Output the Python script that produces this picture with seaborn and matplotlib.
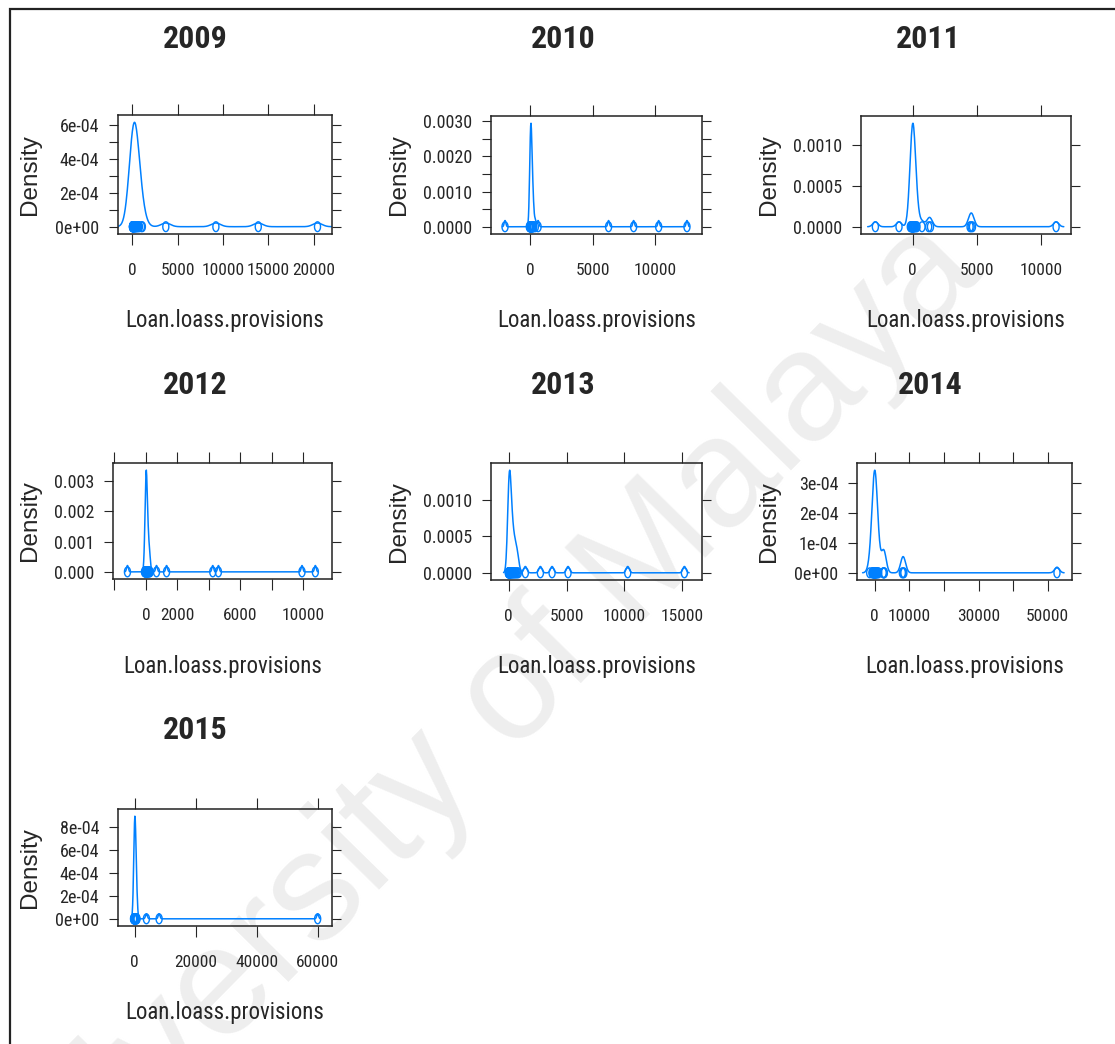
import numpy as np
import matplotlib
matplotlib.use("Agg")
import matplotlib.pyplot as plt
from matplotlib import font_manager
from matplotlib.path import Path
from matplotlib.patches import Rectangle
from matplotlib.ticker import FixedLocator, FixedFormatter
import seaborn as sns

years = [2009, 2010, 2011, 2012, 2013, 2014, 2015]

prov_2009 = [5, 12, 20, 28, 35, 44, 52, 60, 71, 85, 96, 110, 124, 140, 158, 175, 190, 212,
             236, 260, 288, 315, 350, 390, 430, 480, 540, 610, 690, 780,
             1000, 1100, 3690, 9220, 13900, 20440]
prov_2010 = [-60, -25, 0, 8, 15, 22, 30, 38, 45, 52, 60, 68, 75, 84, 92, 100, 110, 120,
             132, 145, 160, 178, 196, 220, 250, 290, 420, 640,
             -2000, 6270, 8270, 10270, 12530]
prov_2011 = [-180, -130, -95, -70, -52, -40, -28, -18, -10, -4, 0, 6, 14, 22, 31, 42, 55,
             70, 90, 115, 150, 200, 270, 340,
             -2900, -1060, 730, 1250, 1390, 4470, 4560, 4660, 11170]
prov_2012 = [-85, -50, -30, -18, -10, -5, 0, 4, 9, 15, 21, 28, 35, 42, 50, 58, 67, 78, 90,
             104, 120, 140, 165, 195, 230, 270,
             -1170, 680, 1320, 4260, 4620, 9940, 10790]
prov_2013 = [-40, -15, 0, 6, 14, 22, 30, 40, 52, 65, 80, 96, 115, 135, 158, 182, 210, 240,
             275, 315, 360, 410, 465, 525, 590, 660, 740, 830,
             1440, 2740, 3750, 5130, 10290, 15190]
prov_2014 = [-820, -610, -480, -390, -310, -250, -190, -140, -95, -50, -10, 30, 75, 125,
             180, 250, 330, 420, 540, 690, 880, 1150,
             2450, 2580, 2660, 2790, 7980, 8200, 8430, -1450, 52660]
prov_2015 = [-390, -300, -230, -170, -125, -90, -60, -35, -15, 0, 15, 32, 50, 70, 92, 115,
             140, 170, 205, 245, 290, 340, 400, 470, 550, 640, 740,
             3840, 8000, 60000]
provisions = [prov_2009, prov_2010, prov_2011, prov_2012, prov_2013, prov_2014, prov_2015]

# kernel bandwidth (same units as the data)
bandwidths = [510, 68, 200, 57, 135, 685, 300]

xticks = [[0, 5000, 10000, 15000, 20000],
          [0, 5000, 10000],
          [0, 5000, 10000],
          [-2000, 0, 2000, 4000, 6000, 8000, 10000],
          [0, 5000, 10000, 15000],
          [0, 10000, 20000, 30000, 40000, 50000],
          [0, 20000, 40000, 60000]]
xticklabels = [["0", "5000", "10000", "15000", "20000"],
               ["0", "5000", "10000"],
               ["0", "5000", "10000"],
               ["", "0", "2000", "", "6000", "", "10000"],
               ["0", "5000", "10000", "15000"],
               ["0", "10000", "", "30000", "", "50000"],
               ["0", "20000", "40000", "60000"]]
yticks = [[0, 1e-4, 2e-4, 3e-4, 4e-4, 5e-4, 6e-4],
          [0, 0.0005, 0.001, 0.0015, 0.002, 0.0025, 0.003],
          [0, 0.0005, 0.001],
          [0, 0.001, 0.002, 0.003],
          [0, 0.0005, 0.001],
          [0, 1e-4, 2e-4, 3e-4],
          [0, 2e-4, 4e-4, 6e-4, 8e-4]]
yticklabels = [["0e+00", "", "2e-04", "", "4e-04", "", "6e-04"],
               ["0.0000", "", "0.0010", "", "0.0020", "", "0.0030"],
               ["0.0000", "0.0005", "0.0010"],
               ["0.000", "0.001", "0.002", "0.003"],
               ["0.0000", "0.0005", "0.0010"],
               ["0e+00", "1e-04", "2e-04", "3e-04"],
               ["0e+00", "2e-04", "4e-04", "6e-04", "8e-04"]]
xlims = [(-1590, 22040), (-3120, 13730), (-4020, 12330), (-2090, 11850),
         (-1530, 16710), (-5120, 57000), (-5480, 64700)]

# layout in pixels (left, top, right, bottom) of each panel box
W, H = 1115, 1044
boxes = [(118, 115, 332, 234), (491, 116, 702, 234), (861, 116, 1071, 234),
         (113, 463, 332, 579), (491, 463, 702, 580), (857, 463, 1072, 580),
         (118, 809, 332, 926)]
title_pos = [(195, 39), (563, 39), (928, 39), (195, 385), (563, 385), (930, 385), (195, 730)]
xlab_y = [320, 320, 320, 667, 667, 667, 1013]
ylab_x = [30, 399, 769, 30, 399, 769, 30]

blue = "#0080FF"

installed = {f.name for f in font_manager.fontManager.ttflist}
narrow = [n for n in ["Roboto Condensed", "Liberation Sans Narrow", "Archivo Narrow"]
          if n in installed] + ["Liberation Sans", "DejaVu Sans"]
regular = ["Liberation Sans", "DejaVu Sans"]

sns.set_style("white")
plt.rcParams["font.family"] = narrow
plt.rcParams["axes.linewidth"] = 1.1
plt.rcParams["axes.edgecolor"] = "#222222"

t = np.linspace(0, 2 * np.pi, 25)
ring = Path(np.column_stack([0.62 * np.cos(t), np.sin(t)]))

fig = plt.figure(figsize=(W / 100, H / 100), dpi=100)

# watermark
fig.text(465 / W, 1 - 745 / H, "University of Malaya", rotation=45.5,
         rotation_mode="anchor", ha="center", va="center", fontsize=112,
         color="#eeeeee", family=regular, zorder=-1)

# frame (only left/top edges are inside the picture)
fig.patches.append(Rectangle((10 / W, -0.2), 1.2, 1.2 - 9 / H,
                             transform=fig.transFigure, fill=False,
                             edgecolor="#222222", linewidth=1.6))

for i, yr in enumerate(years):
    l, tp, r, b = boxes[i]
    ax = fig.add_axes([l / W, 1 - b / H, (r - l) / W, (b - tp) / H])
    ax.patch.set_alpha(0)
    vals = np.array(provisions[i], dtype=float)
    bw = bandwidths[i] / np.std(vals, ddof=1)
    sns.kdeplot(x=vals, bw_method=bw, gridsize=512, cut=3, color=blue,
                linewidth=1.1, ax=ax)
    sns.scatterplot(x=vals, y=np.zeros(len(vals)), marker=ring, s=50,
                    facecolors="none", edgecolor=blue, linewidth=1.0, ax=ax)
    peak = ax.lines[0].get_ydata().max()
    ax.set_ylim(-0.07 * peak, 1.07 * peak)
    ax.set_xlim(*xlims[i])

    ax.xaxis.set_major_locator(FixedLocator(xticks[i]))
    ax.xaxis.set_major_formatter(FixedFormatter(xticklabels[i]))
    ax.yaxis.set_major_locator(FixedLocator(yticks[i]))
    ax.yaxis.set_major_formatter(FixedFormatter(yticklabels[i]))
    ax.tick_params(axis="x", direction="out", length=8, width=0.8, pad=13,
                   labelsize=12.5, bottom=True, top=True, labeltop=False)
    ax.tick_params(axis="y", direction="out", length=6.5, width=0.8, pad=7,
                   labelsize=13, left=True, right=True, labelright=False)
    for s in ax.spines.values():
        s.set_visible(True)

    ax.set_xlabel("Loan.loass.provisions", fontsize=16.5)
    ax.xaxis.set_label_coords(0.5, -(xlab_y[i] - b) / (b - tp))
    ax.xaxis.label.set_va("center")
    ax.set_ylabel("Density", fontsize=17.5, family=regular)
    ax.yaxis.set_label_coords(-(l - ylab_x[i]) / (r - l), 0.5)
    ax.yaxis.label.set_va("center")

    fig.text(title_pos[i][0] / W, 1 - title_pos[i][1] / H, str(yr), ha="center",
             va="center", fontsize=23, fontweight="bold")

fig.savefig("out.png", dpi=100)
